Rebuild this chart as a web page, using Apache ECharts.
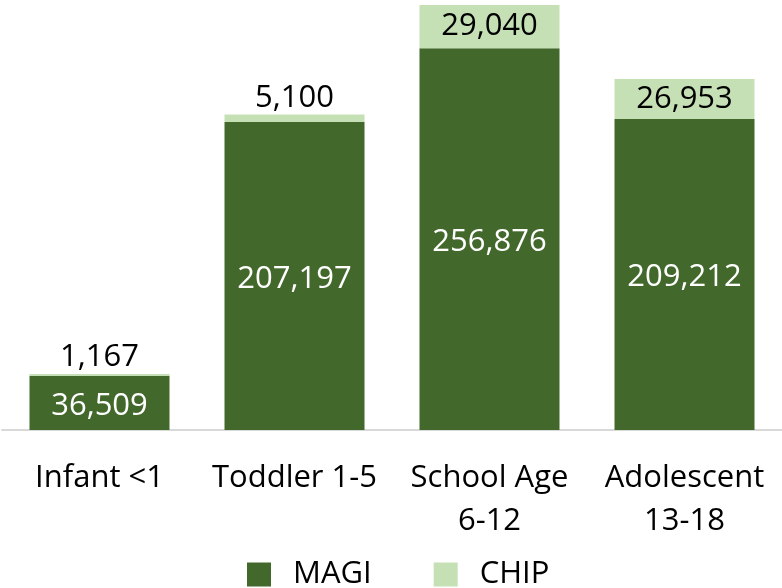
<!DOCTYPE html>
<html>
<head>
<meta charset="utf-8">
<script src="https://cdn.jsdelivr.net/npm/echarts@6/dist/echarts.min.js"></script>
<style>
  html, body { margin: 0; padding: 0; background: #fff; }
  #chart { width: 782px; height: 588px; }
</style>
</head>
<body>
<div id="chart"></div>
<script>
const categories = ["Infant <1", "Toddler 1-5", "School Age\n6-12", "Adolescent\n13-18"];
const magiValues = [36509, 207197, 256876, 209212];
const chipValues = [1167, 5100, 29040, 26953];

const FONT = "'Open Sans', 'Noto Sans', sans-serif";
const FS = 31;
const fmt = (v) => v.toLocaleString("en-US");

const chart = echarts.init(document.getElementById("chart"));

// small CHIP slices get their label above the bar, large ones inside
const chipData = chipValues.map((v) => ({
  value: v,
  label: { position: v < 10000 ? "top" : "inside", distance: 1 },
}));

chart.setOption({
  animation: false,
  textStyle: { fontFamily: FONT },
  grid: { left: 2, right: 0, top: 5, bottom: 158 },
  legend: {
    top: 554,
    left: 242,
    itemWidth: 24,
    itemHeight: 24,
    itemGap: 62,
    icon: "rect",
    textStyle: { fontSize: FS, color: "#000", fontFamily: FONT, padding: [0, 0, 0, 17] },
    data: ["MAGI", "CHIP"],
  },
  xAxis: {
    type: "category",
    data: categories,
    axisLine: { lineStyle: { color: "#d9d9d9", width: 2 } },
    axisTick: { show: false },
    axisLabel: { fontSize: FS, color: "#000", lineHeight: 43, margin: 27, fontFamily: FONT, interval: 0 },
  },
  yAxis: {
    type: "value",
    min: 0,
    max: 285916,
    show: false,
    splitLine: { show: false },
  },
  series: [
    {
      name: "MAGI",
      type: "bar",
      stack: "total",
      barWidth: 140,
      data: magiValues,
      itemStyle: { color: "#43682b" },
      label: {
        show: true,
        position: "inside",
        offset: [0, 3],
        color: "#fff",
        fontSize: FS,
        fontFamily: FONT,
        formatter: (p) => fmt(p.value),
      },
    },
    {
      name: "CHIP",
      type: "bar",
      stack: "total",
      barWidth: 140,
      data: chipData,
      itemStyle: { color: "#c5e0b4" },
      label: {
        show: true,
        color: "#000",
        fontSize: FS,
        fontFamily: FONT,
        formatter: (p) => fmt(p.value),
      },
    },
  ],
});
</script>
</body>
</html>
